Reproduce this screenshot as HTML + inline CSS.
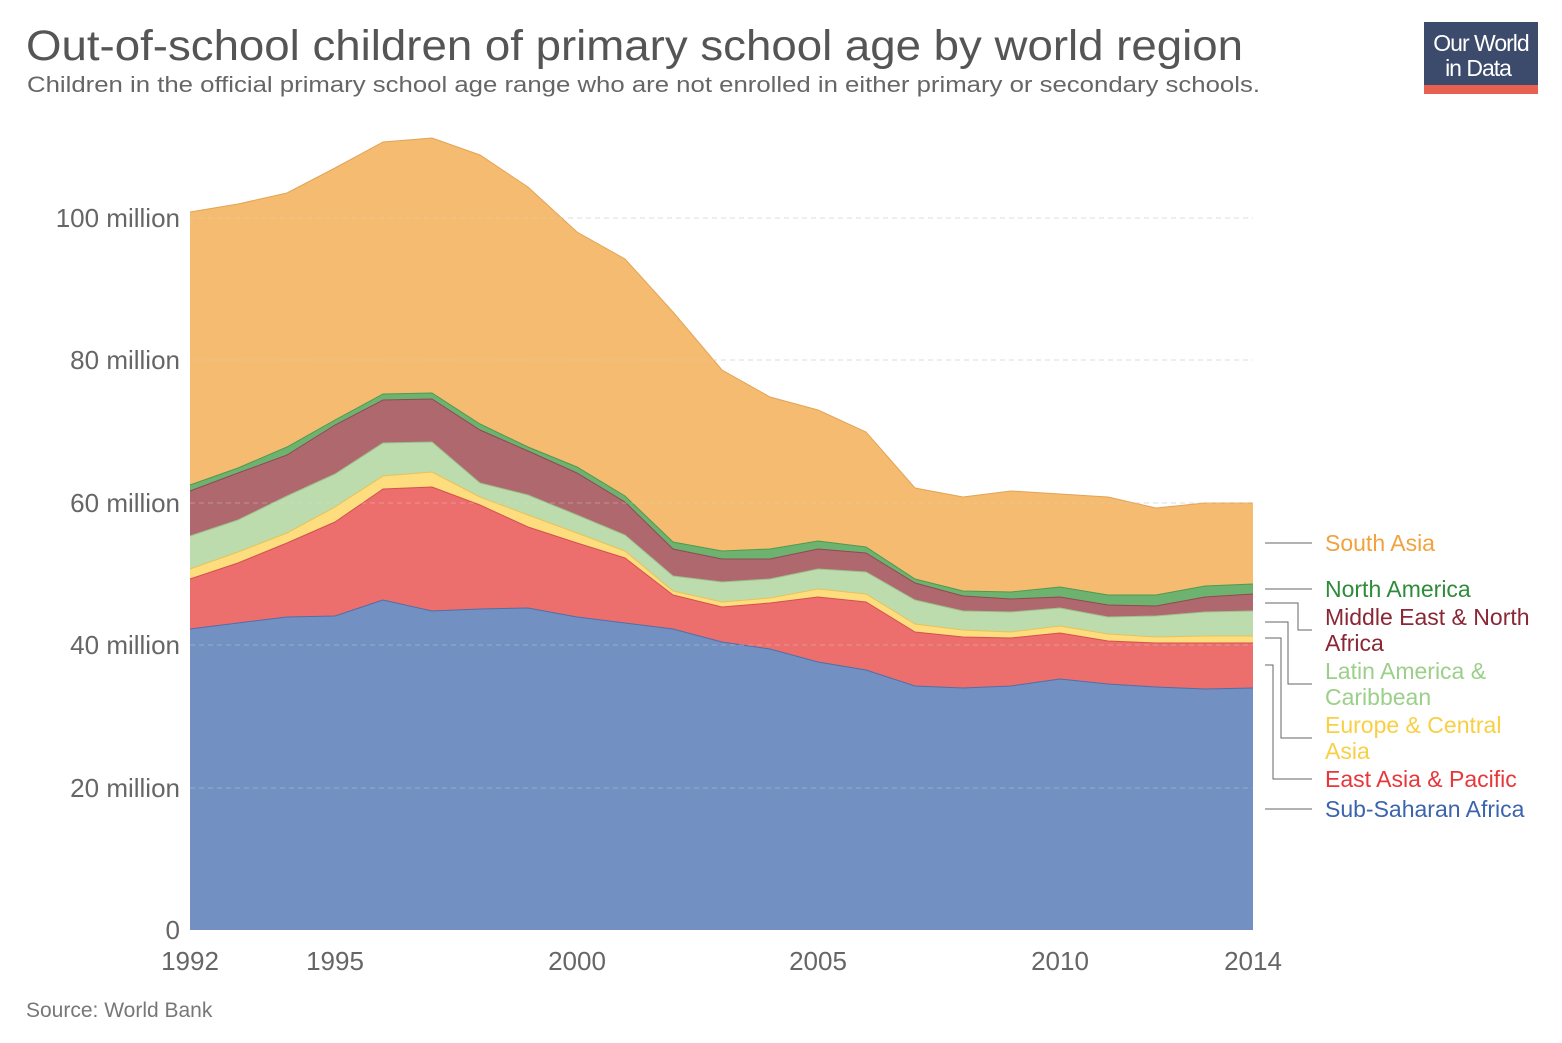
<!DOCTYPE html>
<html><head><meta charset="utf-8"><style>
body{margin:0;background:#fff;font-family:"Liberation Sans",sans-serif;}
</style></head><body>
<svg width="1562" height="1038" xmlns="http://www.w3.org/2000/svg" font-family="Liberation Sans, sans-serif">
<rect width="1562" height="1038" fill="#fff"/>
<text x="26" y="60" font-size="43" fill="#555" textLength="1217" lengthAdjust="spacingAndGlyphs">Out-of-school children of primary school age by world region</text>
<text x="27" y="92" font-size="22" fill="#666" textLength="1233" lengthAdjust="spacingAndGlyphs">Children in the official primary school age range who are not enrolled in either primary or secondary schools.</text>
<rect x="1424" y="22" width="114" height="63" fill="#3c4a6b"/>
<rect x="1424" y="85" width="114" height="9" fill="#e8604f"/>
<text x="1481" y="51" font-size="23" fill="#fff" text-anchor="middle" letter-spacing="-1">Our World</text>
<text x="1478" y="76" font-size="23" fill="#fff" text-anchor="middle" letter-spacing="-1">in Data</text>
<g stroke="#ddd" stroke-dasharray="5,4" stroke-width="1">
<line x1="190" y1="218" x2="1253" y2="218"/><line x1="190" y1="360" x2="1253" y2="360"/>
<line x1="190" y1="503" x2="1253" y2="503"/><line x1="190" y1="645" x2="1253" y2="645"/>
<line x1="190" y1="788" x2="1253" y2="788"/>
</g>
<g stroke-width="1">
<polygon fill="#f5bb70" points="190,212 238,204 287,193 335,168 383,142 432,138 480,155 528,187 577,232 625,259 673,312 722,370 770,397 818,410 866,432 915,488 963,497 1011,491 1060,494 1108,497 1156,508 1205,503 1253,503 1253,930 190,930"/>
<polyline fill="none" stroke="#e3a455" points="190,212 238,204 287,193 335,168 383,142 432,138 480,155 528,187 577,232 625,259 673,312 722,370 770,397 818,410 866,432 915,488 963,497 1011,491 1060,494 1108,497 1156,508 1205,503 1253,503"/>
<polygon fill="#6db36f" points="190,485 238,468 287,447 335,420 383,394 432,393 480,424 528,447 577,467 625,496 673,542 722,551 770,549 818,541 866,547 915,579 963,591 1011,592 1060,587 1108,595 1156,595 1205,586 1253,584 1253,930 190,930"/>
<polyline fill="none" stroke="#4e9a52" points="190,485 238,468 287,447 335,420 383,394 432,393 480,424 528,447 577,467 625,496 673,542 722,551 770,549 818,541 866,547 915,579 963,591 1011,592 1060,587 1108,595 1156,595 1205,586 1253,584"/>
<polygon fill="#b0686f" points="190,491 238,473 287,455 335,425 383,400 432,399 480,430 528,451 577,473 625,502 673,549 722,559 770,559 818,549 866,553 915,583 963,596 1011,599 1060,597 1108,605 1156,606 1205,597 1253,594 1253,930 190,930"/>
<polyline fill="none" stroke="#8e4a52" points="190,491 238,473 287,455 335,425 383,400 432,399 480,430 528,451 577,473 625,502 673,549 722,559 770,559 818,549 866,553 915,583 963,596 1011,599 1060,597 1108,605 1156,606 1205,597 1253,594"/>
<polygon fill="#bcdcae" points="190,536 238,520 287,496 335,474 383,443 432,442 480,483 528,495 577,515 625,535 673,576 722,582 770,579 818,569 866,572 915,600 963,611 1011,612 1060,608 1108,617 1156,616 1205,612 1253,611 1253,930 190,930"/>
<polyline fill="none" stroke="#9cc28c" points="190,536 238,520 287,496 335,474 383,443 432,442 480,483 528,495 577,515 625,535 673,576 722,582 770,579 818,569 866,572 915,600 963,611 1011,612 1060,608 1108,617 1156,616 1205,612 1253,611"/>
<polygon fill="#fddd7d" points="190,569 238,552 287,533 335,507 383,476 432,472 480,497 528,515 577,533 625,551 673,591 722,602 770,598 818,589 866,594 915,624 963,630 1011,632 1060,626 1108,634 1156,637 1205,636 1253,636 1253,930 190,930"/>
<polyline fill="none" stroke="#e8c25a" points="190,569 238,552 287,533 335,507 383,476 432,472 480,497 528,515 577,533 625,551 673,591 722,602 770,598 818,589 866,594 915,624 963,630 1011,632 1060,626 1108,634 1156,637 1205,636 1253,636"/>
<polygon fill="#ec6f6e" points="190,579 238,563 287,543 335,522 383,489 432,487 480,505 528,527 577,543 625,558 673,595 722,607 770,603 818,597 866,602 915,632 963,637 1011,638 1060,633 1108,641 1156,643 1205,643 1253,643 1253,930 190,930"/>
<polyline fill="none" stroke="#d5504f" points="190,579 238,563 287,543 335,522 383,489 432,487 480,505 528,527 577,543 625,558 673,595 722,607 770,603 818,597 866,602 915,632 963,637 1011,638 1060,633 1108,641 1156,643 1205,643 1253,643"/>
<polygon fill="#7390c2" points="190,629 238,623 287,617 335,616 383,600 432,611 480,609 528,608 577,617 625,623 673,629 722,642 770,649 818,662 866,670 915,686 963,688 1011,686 1060,679 1108,684 1156,687 1205,689 1253,688 1253,930 190,930"/>
<polyline fill="none" stroke="#4f6fa8" points="190,629 238,623 287,617 335,616 383,600 432,611 480,609 528,608 577,617 625,623 673,629 722,642 770,649 818,662 866,670 915,686 963,688 1011,686 1060,679 1108,684 1156,687 1205,689 1253,688"/>
</g>
<g stroke="#ddd" stroke-dasharray="5,4" stroke-width="1" opacity="0.35">
<line x1="190" y1="218" x2="1253" y2="218"/><line x1="190" y1="360" x2="1253" y2="360"/>
<line x1="190" y1="503" x2="1253" y2="503"/><line x1="190" y1="645" x2="1253" y2="645"/>
<line x1="190" y1="788" x2="1253" y2="788"/>
</g>
<g font-size="26" fill="#666" text-anchor="end">
<text x="180" y="227">100 million</text><text x="180" y="369">80 million</text>
<text x="180" y="512">60 million</text><text x="180" y="654">40 million</text>
<text x="180" y="797">20 million</text><text x="180" y="939">0</text>
</g>
<g font-size="26" fill="#666" text-anchor="middle">
<text x="190" y="970">1992</text><text x="335" y="970">1995</text><text x="577" y="970">2000</text>
<text x="818" y="970">2005</text><text x="1060" y="970">2010</text><text x="1253" y="970">2014</text>
</g>
<text x="26" y="1017" font-size="21" fill="#777">Source: World Bank</text>
<g stroke="#666" fill="none" stroke-width="1">
<polyline points="1265,543 1312,543"/>
<polyline points="1265,589 1312,589"/>
<polyline points="1265,603 1298,603 1298,630 1312,630"/>
<polyline points="1265,622 1288,622 1288,684 1312,684"/>
<polyline points="1265,638 1281,638 1281,738 1312,738"/>
<polyline points="1265,665 1273,665 1273,779 1312,779"/>
<polyline points="1265,809 1312,809"/>
</g>
<g font-size="23">
<text x="1325" y="551" fill="#f0a23e">South Asia</text>
<text x="1325" y="597" fill="#2e8b3a">North America</text>
<text x="1325" y="625" fill="#8b2635">Middle East &amp; North</text>
<text x="1325" y="651" fill="#8b2635">Africa</text>
<text x="1325" y="679" fill="#9ccf8a">Latin America &amp;</text>
<text x="1325" y="705" fill="#9ccf8a">Caribbean</text>
<text x="1325" y="733" fill="#f9cf45">Europe &amp; Central</text>
<text x="1325" y="759" fill="#f9cf45">Asia</text>
<text x="1325" y="787" fill="#e8363a">East Asia &amp; Pacific</text>
<text x="1325" y="817" fill="#3b64ad">Sub-Saharan Africa</text>
</g>
</svg>
</body></html>
